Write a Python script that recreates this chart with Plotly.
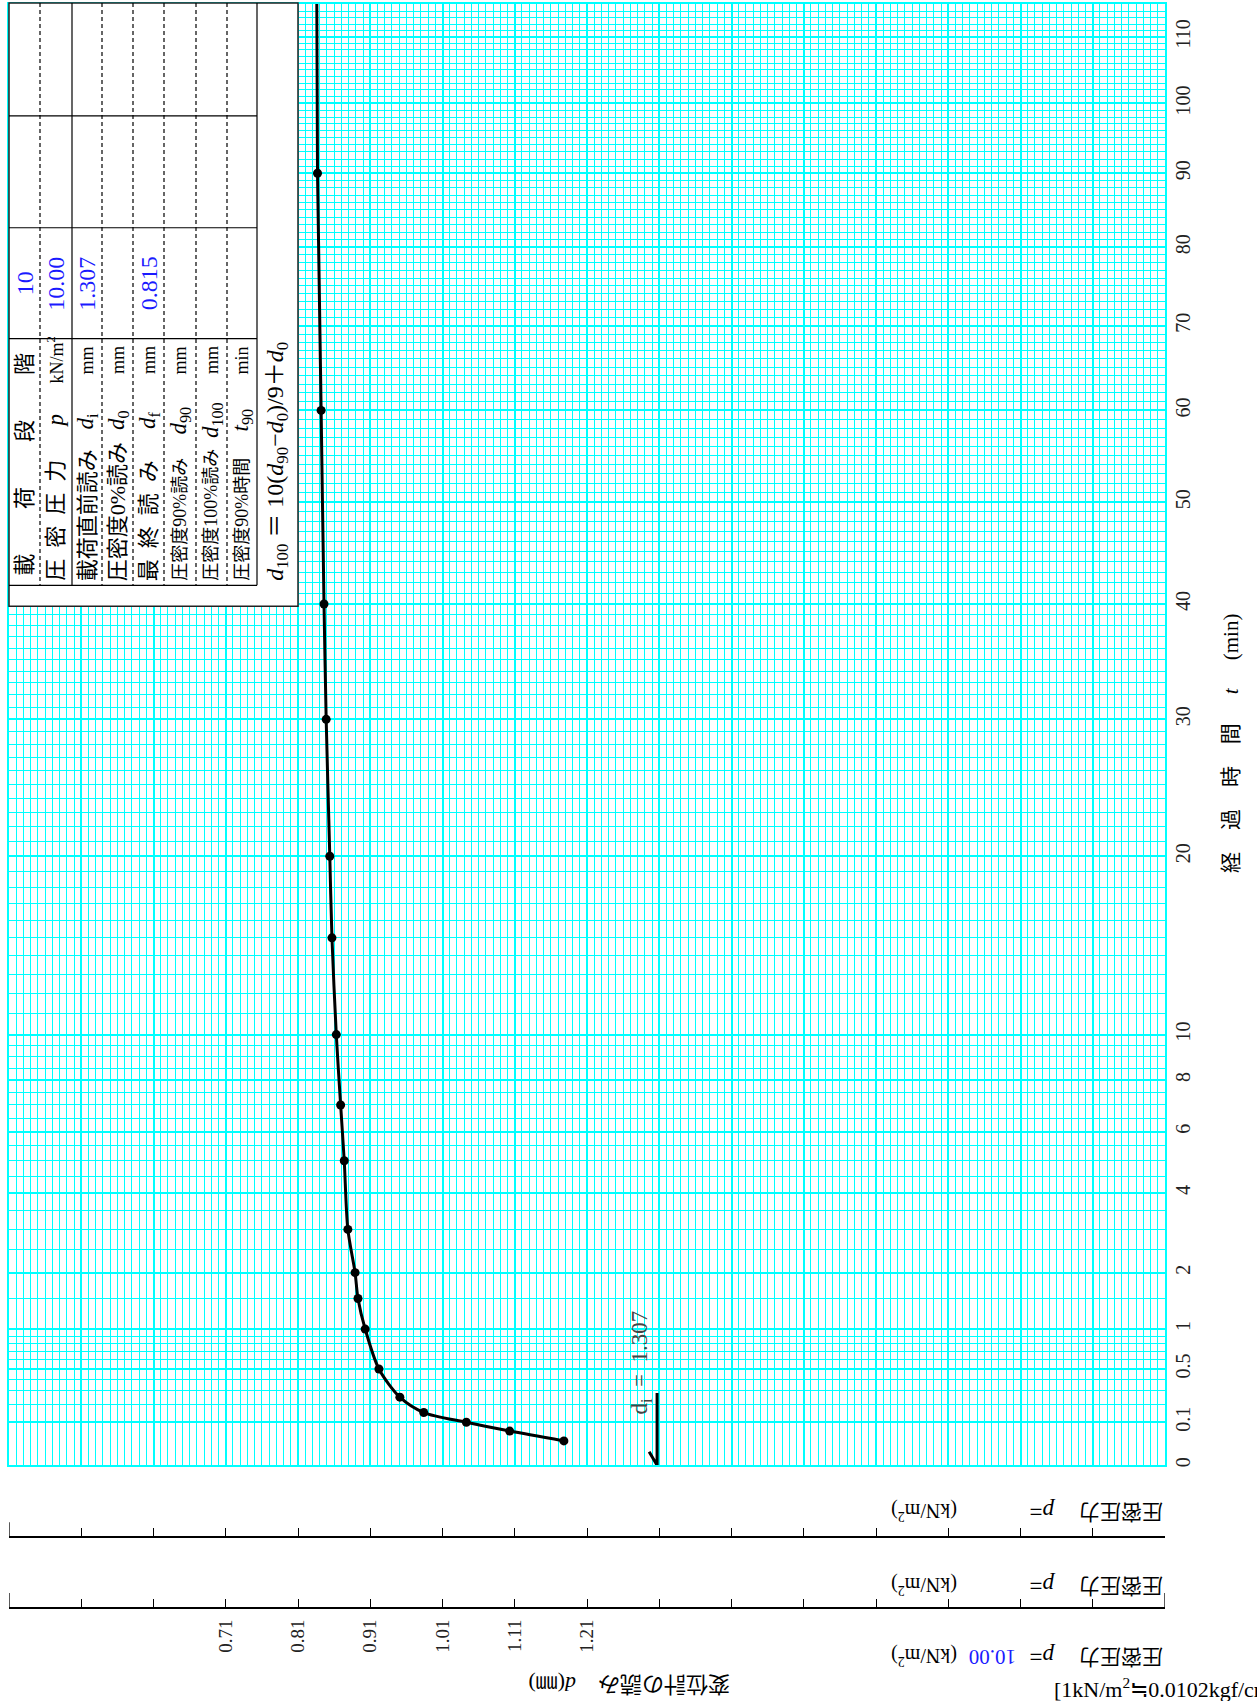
import numpy as np
import plotly.graph_objects as go

W, H = 1257, 1701

# ---- data ----
time_min = [0.032, 0.063, 0.1, 0.15, 0.25, 0.5, 1, 1.5, 2, 3, 5, 7, 10, 15, 20, 30, 40, 60, 90, 1440]
reading_mm = [1.178, 1.103, 1.043, 0.984, 0.951, 0.922, 0.903, 0.893, 0.889, 0.879,
              0.874, 0.869, 0.863, 0.857, 0.854, 0.849, 0.846, 0.842, 0.837, 0.815]
d_initial = 1.307

time_ticks = [0, 0.1, 0.5, 1, 2, 4, 6, 8, 10, 20, 30, 40, 50, 60, 70, 80, 90, 100, 110]
time_tick_labels = ["0", "0.1", "0.5", "1", "2", "4", "6", "8", "10", "20", "30", "40",
                    "50", "60", "70", "80", "90", "100", "110"]
reading_label_vals = [0.71, 0.81, 0.91, 1.01, 1.11, 1.21]
reading_labels = ["0.71", "0.81", "0.91", "1.01", "1.11", "1.21"]

row_names = ["載荷段階", "圧  密  圧  力", "載荷直前読み", "圧密度0%読み", "最  終  読  み",
             "圧密度90%読み", "圧密度100%読み", "圧密度90%時間"]
row_symbols = ["", "<i>p</i>", "<i>d</i><sub>i</sub>", "<i>d</i><sub>0</sub>", "<i>d</i><sub>f</sub>",
               "<i>d</i><sub>90</sub>", "<i>d</i><sub>100</sub>", "<i>t</i><sub>90</sub>"]
row_units = ["", "kN/m<sup>2</sup>", "mm", "mm", "mm", "mm", "mm", "min"]
row_values = ["10", "10.00", "1.307", "", "0.815", "", "", ""]
pressure_rows = ["", "", "10.00"]

SERIF = "Liberation Serif, Noto Sans CJK JP, serif"
CYAN = "#00FFFF"
BLUE = "#1a1aff"


def px(x):
    return x / W


def py(y):
    return 1 - y / H


annotations = []
shapes = []


def txt(x, y, s, size=20, color="black", angle=0, xa="center", ya="middle"):
    annotations.append(dict(x=px(x), y=py(y), xref="paper", yref="paper", text=s, showarrow=False,
                            font=dict(size=size, color=color, family=SERIF), textangle=angle,
                            xanchor=xa, yanchor=ya))


def line(x0, y0, x1, y1, w=1.2, dash="solid", color="black"):
    shapes.append(dict(type="line", xref="paper", yref="paper", x0=px(x0), y0=py(y0), x1=px(x1), y1=py(y1),
                       line=dict(color=color, width=w, dash=dash), layer="above"))


fig = go.Figure()
fig.add_trace(go.Scatter(x=reading_mm, y=np.sqrt(time_min), mode="lines+markers",
                         line=dict(color="black", width=3, shape="spline", smoothing=0.8),
                         marker=dict(size=9, color="black"), showlegend=False, hoverinfo="skip"))
# d_i marker line
fig.add_trace(go.Scatter(x=[d_initial - 0.011, d_initial, d_initial], y=[0.10, 0, 0.53], mode="lines",
                         line=dict(color="black", width=3), showlegend=False, hoverinfo="skip"))
for ax in ["x2", "x3"]:
    fig.add_trace(go.Scatter(x=[None], y=[None], xaxis=ax, yaxis="y", showlegend=False, hoverinfo="skip"))

annotations.append(dict(x=d_initial, y=py(1418), xref="x", yref="paper", xshift=-16,
                        text="d<sub>i</sub>  =  %.3f" % d_initial, showarrow=False, textangle=-90,
                        font=dict(size=23, color="#444", family=SERIF), xanchor="center", yanchor="bottom"))

# ---- table (rotated) ----
col_edges = [9, 40, 72, 102, 133, 164, 196, 227, 257, 298]
shapes.append(dict(type="rect", xref="paper", yref="paper", x0=px(9), y0=py(3), x1=px(298), y1=py(607),
                   fillcolor="white", line=dict(color="#222", width=1.5), layer="above"))
for yy in [116, 228, 339, 586]:
    line(9, yy, 257, yy)
for xx in col_edges[1:-1]:
    solid = xx in (72, 257)
    line(xx, 3, xx, 586, dash="solid" if solid else "4px,3px")

for i in range(8):
    cx = (col_edges[i] + col_edges[i + 1]) / 2
    jp_size = 22 if i < 5 else 18
    if i == 0:
        for k, ch in enumerate(row_names[0]):
            txt(cx, 566 - 67 * k, ch, size=22, angle=-90)
    else:
        txt(cx, 584, row_names[i], size=jp_size, angle=-90, ya="bottom")
        txt(cx, 421, row_symbols[i], size=23, angle=-90)
        txt(cx, 361, row_units[i], size=18, angle=-90)
    if row_values[i]:
        txt(cx, 284, row_values[i], size=24, color=BLUE, angle=-90)

txt(277, 584, "<i>d</i><sub>100</sub> ＝ 10(<i>d</i><sub>90</sub>−<i>d</i><sub>0</sub>)/9＋<i>d</i><sub>0</sub>",
    size=24, angle=-90, ya="bottom")

# ---- time axis title ----
for k, ch in enumerate(["経", "過", "時", "間", "<i>t</i>"]):
    txt(1231, 864 - 43 * k, ch, size=21, angle=-90)
txt(1231, 638, "(min)", size=21, angle=-90)

# ---- bottom pressure rows ----
for yy, val in zip([1514, 1588, 1659], pressure_rows):
    txt(1165, yy, "圧密圧力", size=21, angle=180, xa="right")
    txt(1043, yy, "<i>p</i>=", size=23, angle=180)
    txt(924, yy, "(kN/m<sup>2</sup>)", size=20, angle=180)
    if val:
        txt(992, yy, val, size=21, color=BLUE, angle=180)

txt(629, 1687, "変位計の読み　<i>d</i>(㎜)", size=22, angle=180)
txt(1052, 1690, "[1kN/m<sup>2</sup>≒0.0102kgf/cm<sup>2</sup>]", size=22, xa="left")

# tall end ticks on the bottom axes
for yline, ends in [(1539, [0.41]), (1610, [0.41, 2.01])]:
    for e in ends:
        shapes.append(dict(type="line", xref="x", yref="paper", x0=e, x1=e, y0=py(yline), y1=py(yline - 15),
                           line=dict(color="black", width=1.3)))

major_x = np.round(np.arange(0.41, 2.0101, 0.1), 2)
minor_x = np.round(np.arange(0.41, 2.0101, 0.01), 3)
unlabelled_x = [v for v in major_x if all(abs(v - r) > 1e-6 for r in reading_label_vals)]
grid_t = np.concatenate([np.arange(0, 1.0001, 0.1), np.arange(1, 10.0001, 0.5), np.arange(10, 116, 1)])

xdom = [px(9), px(1165)]
xrange_ = [0.41, 2.01]
bottom_axis = dict(overlaying="x", anchor="free", domain=xdom, range=xrange_,
                   ticks="inside", ticklen=8, tickwidth=1.3, tickcolor="black", showline=True,
                   linecolor="black", linewidth=1.5, showgrid=False, zeroline=False, side="bottom")

fig.update_layout(
    width=W, height=H, margin=dict(l=0, r=0, t=0, b=0),
    paper_bgcolor="white", plot_bgcolor="white",
    xaxis=dict(domain=xdom, range=xrange_, tickvals=major_x, showticklabels=False, ticks="",
               showgrid=True, gridcolor=CYAN, gridwidth=2,
               minor=dict(tickvals=minor_x, showgrid=True, gridcolor=CYAN, gridwidth=1, ticks=""),
               zeroline=False, showline=True, linecolor=CYAN, linewidth=2, mirror=True, anchor="y"),
    yaxis=dict(domain=[py(1467), py(4)], range=[0, 10.73], side="right", tickvals=np.sqrt(time_ticks),
               ticktext=time_tick_labels, tickangle=-90, ticks="", ticklabelstandoff=-1,
               tickfont=dict(size=20, family=SERIF, color="#222"),
               showgrid=True, gridcolor=CYAN, gridwidth=2,
               minor=dict(tickvals=np.sqrt(grid_t), showgrid=True, gridcolor=CYAN, gridwidth=1, ticks=""),
               zeroline=False, showline=True, linecolor=CYAN, linewidth=2, mirror=True, anchor="x"),
    xaxis2=dict(bottom_axis, position=py(1539), tickvals=major_x, showticklabels=False),
    xaxis3=dict(bottom_axis, position=py(1610), showticklabels=True, tickangle=-90,
                tickvals=reading_label_vals, ticktext=reading_labels,
                minor=dict(tickvals=unlabelled_x, ticks="inside", ticklen=8, tickwidth=1.3, tickcolor="black"),
                tickfont=dict(size=19, family=SERIF, color="#222"), ticklabelstandoff=3),
    annotations=annotations, shapes=shapes, showlegend=False,
)

fig.write_html("out.html", config={"displayModeBar": False},
               post_script="document.body.style.margin='0';")
